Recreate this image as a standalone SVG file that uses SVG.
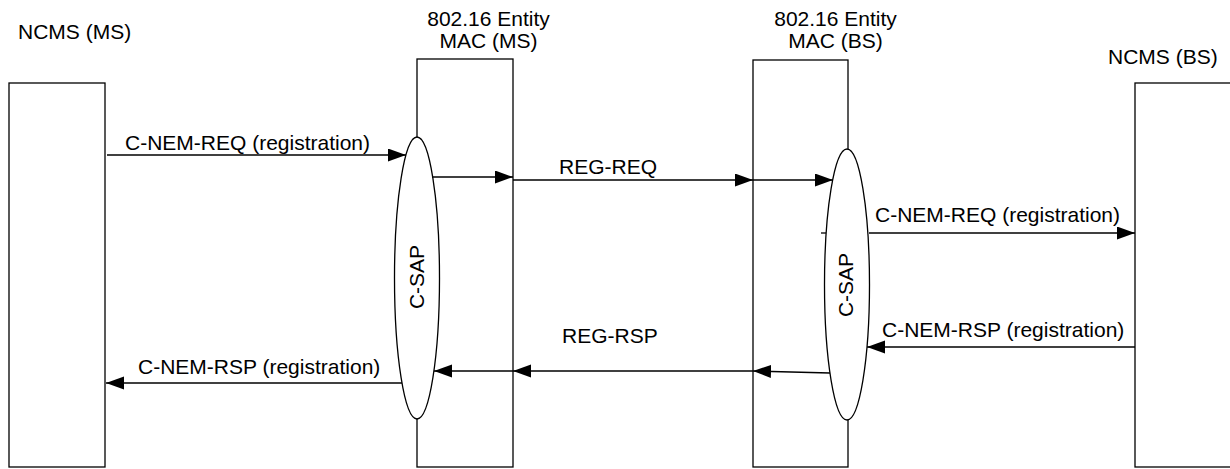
<svg xmlns="http://www.w3.org/2000/svg" width="1230" height="469" viewBox="0 0 1230 469">
<style>
.box{fill:#fff;stroke:#000;stroke-width:1.3}
.sap{fill:#fff;stroke:#000;stroke-width:1.3}
.lbl{font-family:"Liberation Sans",Arial,sans-serif;font-size:21px;fill:#000}
.c{stroke:#000;stroke-width:1.3;fill:none}
.a{marker-end:url(#ah)}
</style>
<defs>
<marker id="ah" markerUnits="userSpaceOnUse" markerWidth="19" markerHeight="14" refX="18" refY="6.5" orient="auto">
<path d="M0,0 L18,6.5 L0,13 z" fill="#000"/>
</marker>
</defs>
<g id="ncms-ms">
<rect class="box" x="9" y="83" width="96" height="384"/>
<text class="lbl" x="18" y="39">NCMS (MS)</text>
</g>
<g id="mac-ms">
<rect class="box" x="417" y="59" width="96" height="408"/>
<text class="lbl" x="488.5" y="26" text-anchor="middle">802.16 Entity</text>
<text class="lbl" x="488.5" y="48" text-anchor="middle">MAC (MS)</text>
</g>
<g id="mac-bs">
<rect class="box" x="753" y="60" width="95" height="407"/>
<text class="lbl" x="835.5" y="26" text-anchor="middle">802.16 Entity</text>
<text class="lbl" x="835.5" y="48" text-anchor="middle">MAC (BS)</text>
</g>
<g id="ncms-bs">
<rect class="box" x="1135" y="83" width="100" height="384"/>
<text class="lbl" x="1108" y="64">NCMS (BS)</text>
</g>
<g id="csap-ms">
<ellipse class="sap" cx="417" cy="278" rx="22.5" ry="141"/>
<text class="lbl" transform="translate(424,277) rotate(-90)" text-anchor="middle">C-SAP</text>
</g>
<g id="csap-bs">
<ellipse class="sap" cx="847" cy="284.5" rx="22.5" ry="135.5"/>
<text class="lbl" transform="translate(853,285) rotate(-90)" text-anchor="middle">C-SAP</text>
</g>
<g id="connectors">
<line class="c a" x1="107" y1="155" x2="406" y2="155"/>
<line class="c a" x1="432" y1="177" x2="513" y2="177"/>
<line class="c a" x1="513" y1="180" x2="753" y2="180"/>
<line class="c a" x1="753" y1="180" x2="833" y2="180"/>
<line class="c a" x1="869" y1="233" x2="1135" y2="233"/>
<line class="c" x1="821" y1="233" x2="826" y2="233"/>
<line class="c a" x1="1135" y1="347" x2="867" y2="347"/>
<line class="c a" x1="830" y1="373" x2="753" y2="371"/>
<line class="c a" x1="753" y1="371" x2="513" y2="371"/>
<line class="c a" x1="513" y1="371" x2="434" y2="371"/>
<line class="c a" x1="402" y1="383" x2="106" y2="383"/>
<text class="lbl" x="125" y="150">C-NEM-REQ (registration)</text>
<text class="lbl" x="559" y="174">REG-REQ</text>
<text class="lbl" x="875" y="222">C-NEM-REQ (registration)</text>
<text class="lbl" x="882" y="337">C-NEM-RSP (registration)</text>
<text class="lbl" x="562" y="343">REG-RSP</text>
<text class="lbl" x="138" y="374">C-NEM-RSP (registration)</text>
</g>
</svg>
